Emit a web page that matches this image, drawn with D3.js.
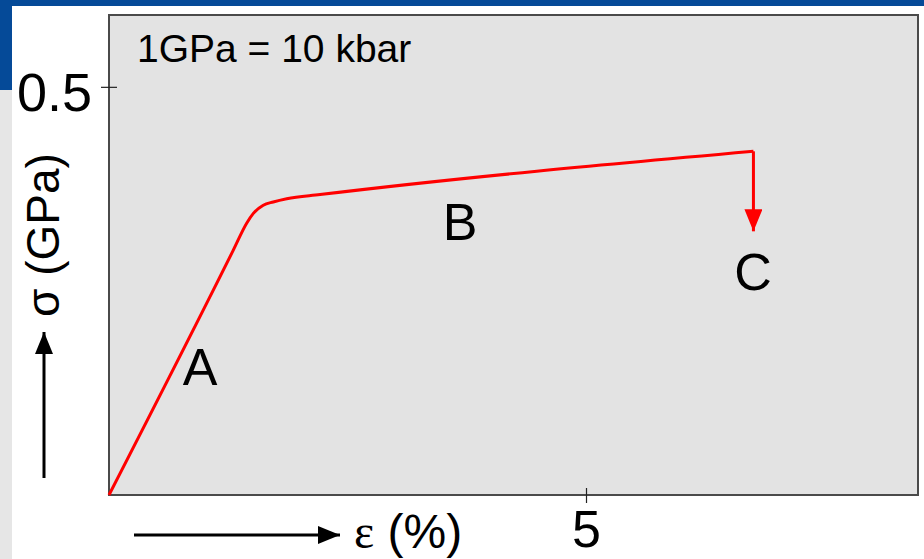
<!DOCTYPE html>
<html>
<head>
<meta charset="utf-8">
<script src="https://cdn.jsdelivr.net/npm/d3@7"></script>
<style>
  html, body { margin: 0; padding: 0; background: #fff; }
  svg { display: block; font-family: "Liberation Sans", Arial, sans-serif; }
</style>
</head>
<body>
<svg id="chart"></svg>
<script>
// ---- data (strain in %, stress in GPa) ----
const strain = [0, 1.303, 1.443, 1.513, 1.617, 1.722, 1.863, 2.212, 6.755];
const stress = [0, 0.300, 0.333, 0.345, 0.355, 0.359, 0.363, 0.368, 0.421];
const failureStress = 0.323;           // tip of drop arrow (C)
const xTicks = [5];
const yTicks = [0.5];
const labelText = ["A", "B", "C"];
const labelStrain = [0.955, 3.68, 6.75];
const labelStress = [0.135, 0.3125, 0.251];

const W = 924, H = 559;
const plot = { left: 109, right: 918, top: 15, bottom: 495 };

const svg = d3.select("#chart").attr("width", W).attr("height", H);

// slide decoration
svg.append("rect").attr("x", 0).attr("y", 0).attr("width", W).attr("height", 6).attr("fill", "#054a98");
svg.append("rect").attr("x", 0).attr("y", 0).attr("width", 12).attr("height", 90).attr("fill", "#054a98");
svg.append("rect").attr("x", 0).attr("y", 90).attr("width", 12).attr("height", H - 90).attr("fill", "#e6e6e6");

const x = d3.scaleLinear().domain([0, 8.48]).range([plot.left, plot.right]);
const y = d3.scaleLinear().domain([0, 0.588]).range([plot.bottom, plot.top]);

// plot frame
svg.append("rect")
  .attr("x", plot.left).attr("y", plot.top)
  .attr("width", plot.right - plot.left).attr("height", plot.bottom - plot.top)
  .attr("fill", "#e3e3e3").attr("stroke", "#4a4a4a").attr("stroke-width", 2);

// axes (single tick crossing the frame)
const yAxis = svg.append("g").attr("transform", `translate(${plot.left},0)`)
  .call(d3.axisLeft(y).tickValues(yTicks).tickFormat(d3.format(".1f")).tickSizeOuter(0));
yAxis.select(".domain").remove();
yAxis.selectAll(".tick line").attr("x1", -8).attr("x2", 8).attr("stroke", "#222").attr("stroke-width", 1.2);
yAxis.selectAll(".tick text").attr("x", -17).attr("dy", "0.43em")
  .attr("font-size", 54).attr("fill", "#000").attr("font-family", "Liberation Sans, Arial, sans-serif");

const xAxis = svg.append("g").attr("transform", `translate(0,${plot.bottom})`)
  .call(d3.axisBottom(x).tickValues(xTicks).tickFormat(d3.format("d")).tickSizeOuter(0));
xAxis.select(".domain").remove();
xAxis.selectAll(".tick line").attr("y1", -7).attr("y2", 8).attr("stroke", "#222").attr("stroke-width", 1.2);
xAxis.selectAll(".tick text").attr("y", 52).attr("dy", 0)
  .attr("font-size", 52).attr("fill", "#000").attr("font-family", "Liberation Sans, Arial, sans-serif");

// arrow markers
const defs = svg.append("defs");
function head(id, color, len, wid) {
  defs.append("marker").attr("id", id)
    .attr("viewBox", `0 0 ${len} ${wid}`).attr("refX", len).attr("refY", wid / 2)
    .attr("markerUnits", "userSpaceOnUse").attr("markerWidth", len).attr("markerHeight", wid)
    .attr("orient", "auto")
    .append("path").attr("d", `M0,0 L${len},${wid / 2} L0,${wid} Z`).attr("fill", color);
}
head("redHead", "#ff0000", 22, 18);
head("blackHead", "#000", 22, 18);

// stress-strain curve
const pts = strain.map((e, i) => [e, stress[i]]);
svg.append("path")
  .datum(pts)
  .attr("fill", "none").attr("stroke", "#ff0000").attr("stroke-width", 3)
  .attr("stroke-linejoin", "round")
  .attr("d", d3.line().x(d => x(d[0])).y(d => y(d[1])).curve(d3.curveMonotoneX));

// drop to failure
const last = pts[pts.length - 1];
svg.append("line")
  .attr("x1", x(last[0])).attr("y1", y(last[1]))
  .attr("x2", x(last[0])).attr("y2", y(failureStress))
  .attr("stroke", "#ff0000").attr("stroke-width", 3)
  .attr("marker-end", "url(#redHead)");

// region labels
svg.selectAll("text.region")
  .data(labelText)
  .enter().append("text")
  .attr("class", "region")
  .attr("x", (d, i) => x(labelStrain[i]))
  .attr("y", (d, i) => y(labelStress[i]))
  .attr("text-anchor", "middle")
  .attr("font-size", 52)
  .text(d => d);

// unit note
svg.append("text").attr("x", 137).attr("y", 62).attr("font-size", 39).text("1GPa = 10 kbar");

// axis titles with arrows
svg.append("line").attr("x1", 134).attr("y1", 535).attr("x2", 340).attr("y2", 535)
  .attr("stroke", "#000").attr("stroke-width", 3).attr("marker-end", "url(#blackHead)");
const xt = svg.append("text").attr("x", 354).attr("y", 548).attr("font-size", 48);
xt.append("tspan").attr("font-family", "Liberation Serif, Times New Roman, serif").text("ε");
xt.append("tspan").text(" (%)");

svg.append("line").attr("x1", 44).attr("y1", 478).attr("x2", 44).attr("y2", 332)
  .attr("stroke", "#000").attr("stroke-width", 3).attr("marker-end", "url(#blackHead)");
svg.append("text")
  .attr("transform", "translate(59,235) rotate(-90)")
  .attr("text-anchor", "middle").attr("font-size", 46)
  .text("σ (GPa)");
</script>
</body>
</html>
